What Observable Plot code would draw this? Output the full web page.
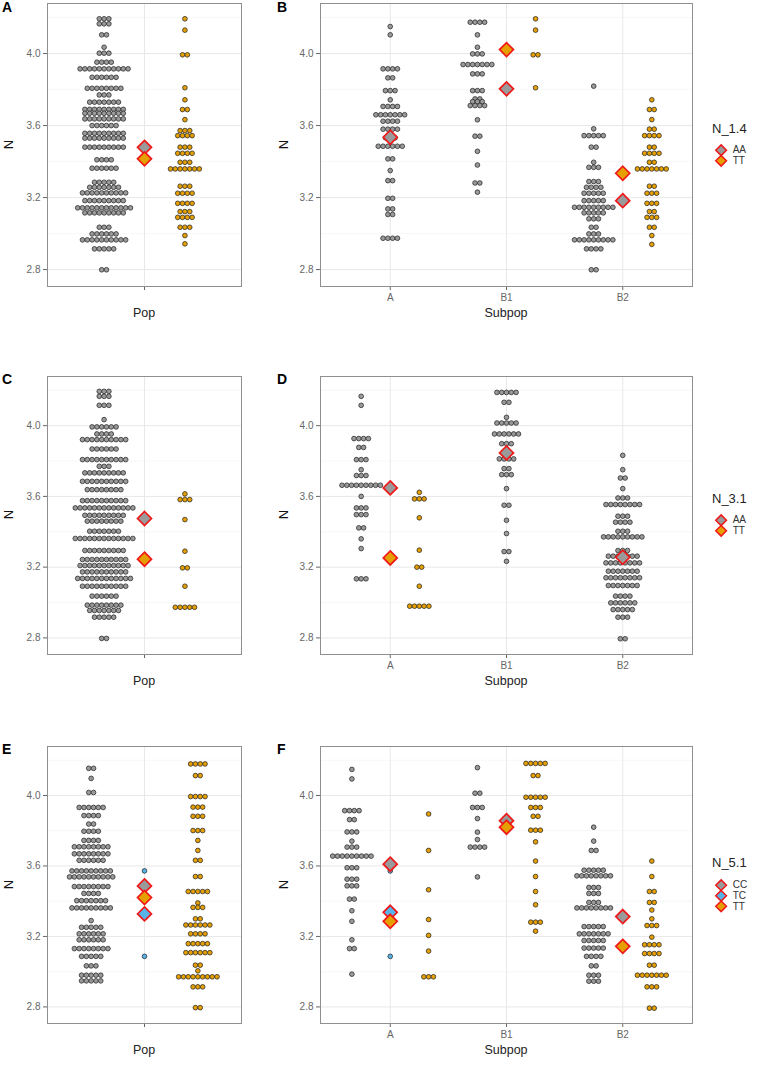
<!DOCTYPE html>
<html><head><meta charset="utf-8">
<script src="https://cdn.jsdelivr.net/npm/d3@7"></script>
<script src="https://cdn.jsdelivr.net/npm/@observablehq/plot@0.6"></script>
<style>
body{margin:0;background:#fff;}
#root{position:relative;width:760px;height:1073px;font-family:"Liberation Sans",Arial,sans-serif;overflow:hidden;}
.abs{position:absolute;}
.t{position:absolute;white-space:nowrap;line-height:1;}
</style></head><body><div id="root"></div>
<script>
// ---------------- DATA (bins: [value of N, number of dots]) ----------------
const yMajor = [2.8, 3.2, 3.6, 4.0];
const yMinor = [3.0, 3.4, 3.8, 4.2];
const genoFill = {AA: "#9a9a9a", CC: "#9a9a9a", TC: "#56B4E9", TT: "#E69F00"};
const legendTitles = ["N_1.4", "N_3.1", "N_5.1"];
const legendGenos = [["AA", "TT"], ["AA", "TT"], ["CC", "TC", "TT"]];
const popCats = ["Pop"];
const subCats = ["A", "B1", "B2"];

// Panel A (N_1.4, Pop)
const A_Pop_AA = [[4.193,3],[4.165,3],[4.104,2],[4.035,1],[4.002,3],[3.952,4],[3.915,11],[3.868,6],[3.807,8],[3.77,3],[3.73,7],[3.69,9],[3.668,9],[3.637,9],[3.6,6],[3.557,9],[3.53,9],[3.48,9],[3.41,4],[3.363,6],[3.285,5],[3.257,7],[3.226,10],[3.183,9],[3.143,12],[3.115,9],[3.035,3],[2.998,6],[2.965,10],[2.915,5],[2.799,2]];
const A_Pop_TT = [[4.193,1],[4.13,1],[3.993,2],[3.81,1],[3.743,1],[3.689,2],[3.633,1],[3.572,3],[3.544,4],[3.48,3],[3.446,4],[3.396,3],[3.359,7],[3.263,3],[3.224,4],[3.168,4],[3.122,3],[3.09,4],[3.035,3],[2.989,1],[2.943,1]];
const A_means = [["Pop","AA",3.479],["Pop","TT",3.415]];

// Panel B (N_1.4, Subpop)
const B_A_AA = [[4.15,1],[4.104,1],[3.915,4],[3.865,2],[3.794,3],[3.743,1],[3.706,4],[3.66,7],[3.624,4],[3.58,4],[3.532,3],[3.485,6],[3.415,2],[3.35,1],[3.294,2],[3.196,2],[3.137,2],[3.106,2],[2.974,4]];
const B_B1_AA = [[4.174,4],[4.104,1],[4.035,1],[3.998,3],[3.939,7],[3.887,3],[3.794,3],[3.748,2],[3.733,3],[3.711,4],[3.632,1],[3.541,2],[3.457,1],[3.381,1],[3.281,2],[3.23,1]];
const B_B1_TT = [[4.193,1],[4.13,1],[3.993,2],[3.81,1]];
const B_B2_AA = [[3.819,1],[3.582,1],[3.544,5],[3.48,2],[3.396,1],[3.368,3],[3.289,3],[3.257,4],[3.224,5],[3.183,5],[3.146,9],[3.115,5],[3.082,3],[3.035,2],[2.998,3],[2.965,9],[2.915,4],[2.799,2]];
const B_B2_TT = [[3.743,1],[3.689,2],[3.633,1],[3.58,2],[3.544,4],[3.48,2],[3.446,4],[3.396,2],[3.359,7],[3.263,2],[3.224,3],[3.168,3],[3.122,2],[3.09,3],[3.035,2],[2.989,1],[2.94,1]];
const B_means = [["A","AA",3.535],["B1","AA",3.804],["B1","TT",4.022],["B2","AA",3.183],["B2","TT",3.335]];

// Panel C (N_3.1, Pop)
const C_Pop_AA = [[4.194,3],[4.166,3],[4.115,3],[4.034,1],[3.993,6],[3.953,4],[3.921,10],[3.868,6],[3.808,10],[3.77,3],[3.733,9],[3.685,10],[3.638,8],[3.576,10],[3.535,13],[3.493,9],[3.46,8],[3.403,7],[3.362,13],[3.294,9],[3.243,10],[3.209,11],[3.173,10],[3.136,12],[3.092,10],[3.036,6],[2.985,8],[2.955,7],[2.917,5],[2.797,2]];
const C_Pop_TT = [[3.614,1],[3.582,3],[3.469,1],[3.29,1],[3.196,2],[3.092,1],[2.973,5]];
const C_means = [["Pop","AA",3.475],["Pop","TT",3.245]];

// Panel D (N_3.1, Subpop)
const D_A_AA = [[4.166,1],[4.115,1],[3.927,4],[3.877,2],[3.808,3],[3.751,1],[3.718,3],[3.663,9],[3.6,1],[3.535,3],[3.497,3],[3.422,2],[3.36,1],[3.305,1],[3.134,3]];
const D_A_TT = [[3.623,1],[3.586,3],[3.479,1],[3.296,1],[3.2,2],[3.092,1],[2.979,5]];
const D_B1_AA = [[4.188,5],[4.132,2],[4.047,1],[4.015,5],[3.953,6],[3.898,3],[3.846,2],[3.812,4],[3.757,2],[3.723,3],[3.644,1],[3.55,2],[3.465,1],[3.39,1],[3.288,2],[3.233,1]];
const D_B2_AA = [[3.832,1],[3.751,1],[3.704,2],[3.644,1],[3.591,3],[3.554,8],[3.488,3],[3.454,4],[3.403,3],[3.371,9],[3.294,3],[3.262,7],[3.224,8],[3.177,7],[3.14,8],[3.096,7],[3.036,4],[2.998,6],[2.96,5],[2.917,3],[2.795,2]];
const D_means = [["A","AA",3.648],["A","TT",3.252],["B1","AA",3.846],["B2","AA",3.256]];

// Panel E (N_5.1, Pop)
const E_Pop_CC = [[4.154,2],[4.097,1],[4.017,2],[3.932,6],[3.886,4],[3.838,2],[3.797,4],[3.745,4],[3.709,8],[3.669,8],[3.632,6],[3.572,9],[3.538,10],[3.483,8],[3.444,4],[3.403,7],[3.362,9],[3.29,1],[3.252,5],[3.215,6],[3.181,6],[3.131,8],[3.087,5],[3.033,3],[2.98,5],[2.948,5]];
const E_Pop_TC = [[3.572,1],[3.087,1]];
const E_Pop_TT = [[4.179,4],[4.113,2],[3.994,4],[3.934,3],[3.882,3],[3.801,3],[3.745,1],[3.688,1],[3.632,2],[3.54,2],[3.455,5],[3.39,1],[3.365,3],[3.3,2],[3.265,6],[3.215,4],[3.159,5],[3.108,6],[3.037,2],[3.005,1],[2.971,9],[2.914,3],[2.796,2]];
const E_means = [["Pop","CC",3.487],["Pop","TT",3.421],["Pop","TC",3.328]];

// Panel F (N_5.1, Subpop)
const F_A_CC = [[4.148,1],[4.094,1],[3.914,4],[3.863,2],[3.793,3],[3.741,1],[3.707,3],[3.656,9],[3.59,3],[3.525,3],[3.487,3],[3.412,2],[3.346,1],[3.286,1],[3.181,1],[3.131,2],[2.986,1]];
const F_A_TC = [[3.572,1],[3.087,1]];
const F_A_TT = [[3.895,1],[3.688,1],[3.465,1],[3.296,1],[3.206,1],[3.117,1],[2.971,3]];
const F_B1_CC = [[4.158,1],[4.013,2],[3.932,3],[3.869,1],[3.792,1],[3.75,1],[3.707,4],[3.538,1]];
const F_B1_TT = [[4.182,5],[4.113,2],[3.99,5],[3.932,3],[3.882,2],[3.803,3],[3.737,1],[3.628,1],[3.54,1],[3.455,1],[3.38,1],[3.281,3],[3.23,1]];
const F_B2_CC = [[3.82,1],[3.741,1],[3.688,2],[3.576,5],[3.544,8],[3.478,3],[3.444,3],[3.393,3],[3.362,8],[3.256,5],[3.215,7],[3.177,5],[3.134,5],[3.087,4],[3.033,2],[2.98,3],[2.946,3]];
const F_B2_TT = [[3.628,1],[3.54,1],[3.455,2],[3.393,2],[3.35,1],[3.3,1],[3.262,3],[3.196,1],[3.153,4],[3.103,4],[3.037,2],[2.98,7],[2.914,3],[2.793,2]];
const F_means = [["A","CC",3.61],["A","TC",3.337],["A","TT",3.286],["B1","CC",3.857],["B1","TT",3.82],["B2","CC",3.313],["B2","TT",3.144]];

// ---------------- LAYOUT ----------------
const panels = [
  {letter:"A", row:0, col:0, cats:popCats, xLabel:"Pop",    groups:[["Pop","AA",A_Pop_AA],["Pop","TT",A_Pop_TT]], means:A_means},
  {letter:"B", row:0, col:1, cats:subCats, xLabel:"Subpop", groups:[["A","AA",B_A_AA],["B1","AA",B_B1_AA],["B1","TT",B_B1_TT],["B2","AA",B_B2_AA],["B2","TT",B_B2_TT]], means:B_means},
  {letter:"C", row:1, col:0, cats:popCats, xLabel:"Pop",    groups:[["Pop","AA",C_Pop_AA],["Pop","TT",C_Pop_TT]], means:C_means},
  {letter:"D", row:1, col:1, cats:subCats, xLabel:"Subpop", groups:[["A","AA",D_A_AA],["A","TT",D_A_TT],["B1","AA",D_B1_AA],["B2","AA",D_B2_AA]], means:D_means},
  {letter:"E", row:2, col:0, cats:popCats, xLabel:"Pop",    groups:[["Pop","CC",E_Pop_CC],["Pop","TC",E_Pop_TC],["Pop","TT",E_Pop_TT]], means:E_means},
  {letter:"F", row:2, col:1, cats:subCats, xLabel:"Subpop", groups:[["A","CC",F_A_CC],["A","TC",F_A_TC],["A","TT",F_A_TT],["B1","CC",F_B1_CC],["B1","TT",F_B1_TT],["B2","CC",F_B2_CC],["B2","TT",F_B2_TT]], means:F_means}
];
const rows = [{top:3, H:283}, {top:376, H:278}, {top:746, H:277}];
const cols = [{left:0, width:245, ml:47, mr:4, letterX:2, nX:4}, {left:250, width:445, ml:70, mr:3, letterX:277, nX:279}];
const MT = 3, MB = 26;
const yDomain = [2.706, 4.278];
const dodgeW = {2: 0.5, 3: 0.33};
const dotPx = 4.8;

const root = document.getElementById("root");
function addText(txt, x, y, css) {
  const d = document.createElement("div");
  d.className = "t"; d.textContent = txt;
  d.style.left = x + "px"; d.style.top = y + "px";
  Object.assign(d.style, css || {});
  root.appendChild(d); return d;
}

panels.forEach(p => {
  const r = rows[p.row], c = cols[p.col];
  const genos = legendGenos[p.row];
  const frameW = c.width - c.ml - c.mr;
  const span = p.cats.length + 0.2;
  const step = dotPx / (frameW / span);
  const pts = [];
  for (const [cat, geno, bins] of p.groups) {
    const present = genos.filter(g => p.groups.some(q => q[0] === cat && q[1] === g));
    const k = present.length, j = present.indexOf(geno);
    const off = k === 1 ? 0 : (j - (k - 1) / 2) * dodgeW[k];
    const cx = p.cats.indexOf(cat) + 1 + off;
    for (const [v, n] of bins) for (let i = 0; i < n; i++) pts.push({geno, value: v, x: cx + (i - (n - 1) / 2) * step});
  }
  const catTicks = p.cats.map((_, i) => i + 1);
  const chart = Plot.plot({
    width: c.width, height: MT + r.H + MB,
    marginLeft: c.ml, marginRight: c.mr, marginTop: MT, marginBottom: MB,
    x: {domain: [0.4, p.cats.length + 0.6], axis: null},
    y: {domain: yDomain, axis: null},
    color: {type: "identity"},
    style: {fontFamily: "Liberation Sans, Arial, sans-serif", fontSize: "10px", background: "transparent", overflow: "visible"},
    marks: [
      Plot.gridY(yMinor, {stroke: "#f2f2f2", strokeOpacity: 1, strokeWidth: 0.6}),
      Plot.gridY(yMajor, {stroke: "#e8e8e8", strokeOpacity: 1, strokeWidth: 1}),
      Plot.gridX(catTicks, {stroke: "#e8e8e8", strokeOpacity: 1, strokeWidth: 1}),
      Plot.axisY(yMajor, {tickFormat: d3.format(".1f"), tickSize: 4, tickPadding: 3, color: "#666", fontSize: 10, label: null}),
      Plot.axisX(catTicks, {tickFormat: i => p.xLabel === "Pop" ? "" : p.cats[i - 1], tickSize: 4, tickPadding: 3, color: "#666", fontSize: 10, label: null}),
      Plot.dot(pts, {x: "x", y: "value", r: 2.35, fill: d => genoFill[d.geno], stroke: "#262626", strokeWidth: 0.75}),
      Plot.dot(p.means, {x: d => p.cats.indexOf(d[0]) + 1, y: d => d[2], symbol: "diamond2", r: 6.3, fill: d => genoFill[d[1]], stroke: "#f01818", strokeWidth: 1.7}),
      Plot.frame({stroke: "#8f8f8f", strokeWidth: 1})
    ]
  });
  const wrap = document.createElement("div");
  wrap.className = "abs";
  wrap.style.left = c.left + "px"; wrap.style.top = (r.top - MT) + "px";
  wrap.appendChild(chart);
  root.appendChild(wrap);

  addText(p.letter, c.letterX, Math.max(0, r.top - 4), {fontSize: "14px", fontWeight: "bold", color: "#000"});
  addText("N", c.nX, r.top + r.H / 2 - 7, {fontSize: "13px", color: "#111", transform: "rotate(-90deg)"});
  const fx = c.left + c.ml + frameW / 2;
  addText(p.xLabel, fx, r.top + r.H + 21, {fontSize: "12.5px", color: "#222", transform: "translateX(-50%)"});
});

// legends
rows.forEach((r, ri) => {
  const genos = legendGenos[ri];
  const n = genos.length, gap = 11.8;
  const midY = r.top + r.H / 2 + 11;
  const firstY = midY - gap * (n - 1) / 2;
  addText(legendTitles[ri], 712, firstY - 28, {fontSize: "13px", color: "#222"});
  const lg = Plot.plot({
    width: 50, height: 12 + gap * (n - 1), margin: 0,
    x: {axis: null, domain: [0, 1]},
    y: {type: "point", domain: genos, range: [6, 6 + gap * (n - 1)], padding: 0, axis: null},
    color: {type: "identity"},
    style: {fontFamily: "Liberation Sans, Arial, sans-serif", fontSize: "10.5px", background: "transparent", overflow: "visible"},
    marks: [
      Plot.dot(genos, {y: d => d, frameAnchor: "left", dx: 9, symbol: "diamond2", r: 5, fill: d => genoFill[d], stroke: "#f01818", strokeWidth: 1.6}),
      Plot.text(genos, {y: d => d, text: d => d, frameAnchor: "left", dx: 21, textAnchor: "start", fill: "#333"})
    ]
  });
  const w = document.createElement("div");
  w.className = "abs"; w.style.left = "712px"; w.style.top = (firstY - 6) + "px";
  w.appendChild(lg); root.appendChild(w);
});
</script></body></html>
